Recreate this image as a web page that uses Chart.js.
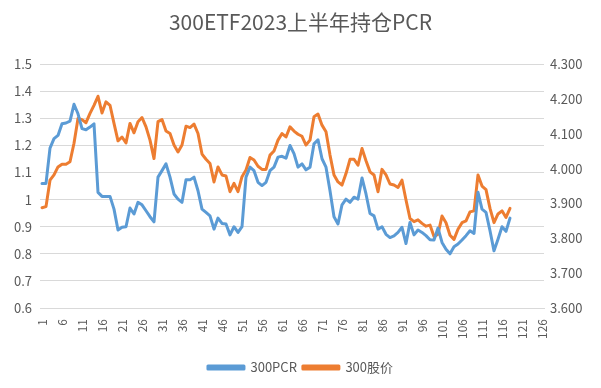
<!DOCTYPE html>
<html>
<head>
<meta charset="utf-8">
<script src="https://cdn.jsdelivr.net/npm/chart.js@4.4.0/dist/chart.umd.min.js"></script>
<style>
  html, body { margin: 0; padding: 0; background: #ffffff; }
  #wrap { width: 601px; height: 388px; }
</style>
</head>
<body>
<div id="wrap"><canvas id="c" width="601" height="388"></canvas></div>
<script>
const titleText = "300ETF2023上半年持仓PCR";
const categories = [
  "1","2","3","4","5","6","7","8","9","10","11","12","13","14","15","16","17","18","19","20",
  "21","22","23","24","25","26","27","28","29","30","31","32","33","34","35","36","37","38","39","40",
  "41","42","43","44","45","46","47","48","49","50","51","52","53","54","55","56","57","58","59","60",
  "61","62","63","64","65","66","67","68","69","70","71","72","73","74","75","76","77","78","79","80",
  "81","82","83","84","85","86","87","88","89","90","91","92","93","94","95","96","97","98","99","100",
  "101","102","103","104","105","106","107","108","109","110","111","112","113","114","115","116","117","118","119","120",
  "121","122","123","124","125","126"
];
const pcrName = "300PCR";
const priceName = "300股价";
const pcrValues = [
  1.06,1.06,1.19,1.225,1.237,1.28,1.283,1.29,1.352,1.317,
  1.262,1.258,1.268,1.28,1.027,1.012,1.012,1.012,0.965,0.888,
  0.898,0.90,0.969,0.947,0.99,0.981,0.959,0.937,0.918,1.083,
  1.107,1.132,1.083,1.021,1.002,0.99,1.073,1.073,1.083,1.033,
  0.965,0.953,0.94,0.891,0.932,0.912,0.91,0.87,0.90,0.879,
  0.90,1.083,1.12,1.107,1.064,1.052,1.064,1.107,1.12,1.157,
  1.16,1.153,1.20,1.17,1.12,1.132,1.11,1.12,1.206,1.221,
  1.151,1.12,1.033,0.937,0.91,0.981,1.002,0.99,1.009,1.002,
  1.08,1.021,0.949,0.94,0.891,0.90,0.872,0.86,0.866,0.879,
  0.898,0.838,0.916,0.87,0.888,0.879,0.867,0.852,0.851,0.895,
  0.842,0.817,0.80,0.826,0.836,0.851,0.867,0.885,0.875,1.027,
  0.965,0.953,0.885,0.811,0.854,0.90,0.883,0.932
];
const priceValues = [
  3.888,3.891,3.967,3.982,4.005,4.013,4.013,4.02,4.073,4.144,
  4.141,4.132,4.159,4.182,4.208,4.16,4.192,4.182,4.13,4.08,
  4.091,4.074,4.13,4.103,4.135,4.147,4.12,4.082,4.029,4.135,
  4.141,4.108,4.101,4.068,4.048,4.068,4.122,4.118,4.128,4.101,
  4.042,4.027,4.015,3.962,4.005,3.982,3.979,3.934,3.958,3.934,
  3.977,3.996,4.032,4.025,4.007,3.998,3.998,4.039,4.051,4.082,
  4.101,4.091,4.12,4.108,4.099,4.093,4.068,4.082,4.149,4.157,
  4.125,4.106,4.039,3.982,3.962,3.953,3.986,4.027,4.027,4.01,
  4.058,4.023,3.991,3.982,3.934,3.998,3.982,3.956,3.953,3.946,
  3.967,3.91,3.857,3.848,3.853,3.843,3.835,3.838,3.805,3.812,
  3.864,3.845,3.809,3.797,3.826,3.845,3.85,3.876,3.879,3.982,
  3.95,3.94,3.886,3.845,3.87,3.879,3.86,3.886
];
const leftTicks = [0.6,0.7,0.8,0.9,1.0,1.1,1.2,1.3,1.4,1.5];
const rightTicks = [3.6,3.7,3.8,3.9,4.0,4.1,4.2,4.3];

const txt = "#595959";
const grid = "#d9d9d9";
const fam = "'Noto Sans CJK SC', 'Noto Sans', sans-serif";

new Chart(document.getElementById('c'), {
  type: 'line',
  data: {
    labels: categories,
    datasets: [
      { label: pcrName, data: pcrValues, yAxisID: 'y', borderColor: '#5b9bd5', backgroundColor: '#5b9bd5',
        borderWidth: 3, pointRadius: 0, tension: 0, borderJoinStyle: 'round', borderCapStyle: 'round' },
      { label: priceName, data: priceValues, yAxisID: 'y1', borderColor: '#ed7d31', backgroundColor: '#ed7d31',
        borderWidth: 3, pointRadius: 0, tension: 0, borderJoinStyle: 'round', borderCapStyle: 'round' }
    ]
  },
  options: {
    responsive: false,
    animation: false,
    layout: { padding: { left: 0, right: 0, top: 0, bottom: 4 } },
    plugins: {
      title: { display: true, text: titleText, color: txt,
               font: { family: fam, size: 21, weight: 'normal' }, padding: { top: 9, bottom: 30 } },
      legend: { position: 'bottom',
        labels: { color: txt, font: { family: fam, size: 13 }, boxWidth: 36, boxHeight: 3, padding: 6 } },
      tooltip: { enabled: false }
    },
    scales: {
      x: {
        offset: true,
        grid: { display: false },
        border: { display: true, color: grid },
        ticks: {
          autoSkip: false, minRotation: 90, maxRotation: 90, color: txt, padding: 3,
          font: { family: fam, size: 12 },
          callback: function(v, i) { return i % 5 === 0 ? categories[i] : ''; }
        },
        afterFit: function(s) { s.height = 47; }
      },
      y: {
        position: 'left', min: 0.6, max: 1.5,
        afterBuildTicks: function(s) { s.ticks = leftTicks.map(v => ({ value: v })); },
        grid: { color: grid, drawTicks: false },
        border: { display: false },
        ticks: { color: txt, padding: 8, font: { family: fam, size: 13 },
                 callback: function(v) { return (Math.round(v * 10) / 10).toString(); } },
        afterFit: function(s) { s.width = 40; }
      },
      y1: {
        position: 'right', min: 3.6, max: 4.3,
        afterBuildTicks: function(s) { s.ticks = rightTicks.map(v => ({ value: v })); },
        grid: { drawOnChartArea: false, drawTicks: false },
        border: { display: false },
        ticks: { color: txt, padding: 6, font: { family: fam, size: 13 },
                 callback: function(v) { return v.toFixed(3); } },
        afterFit: function(s) { s.width = 57; }
      }
    }
  }
});
</script>
</body>
</html>
